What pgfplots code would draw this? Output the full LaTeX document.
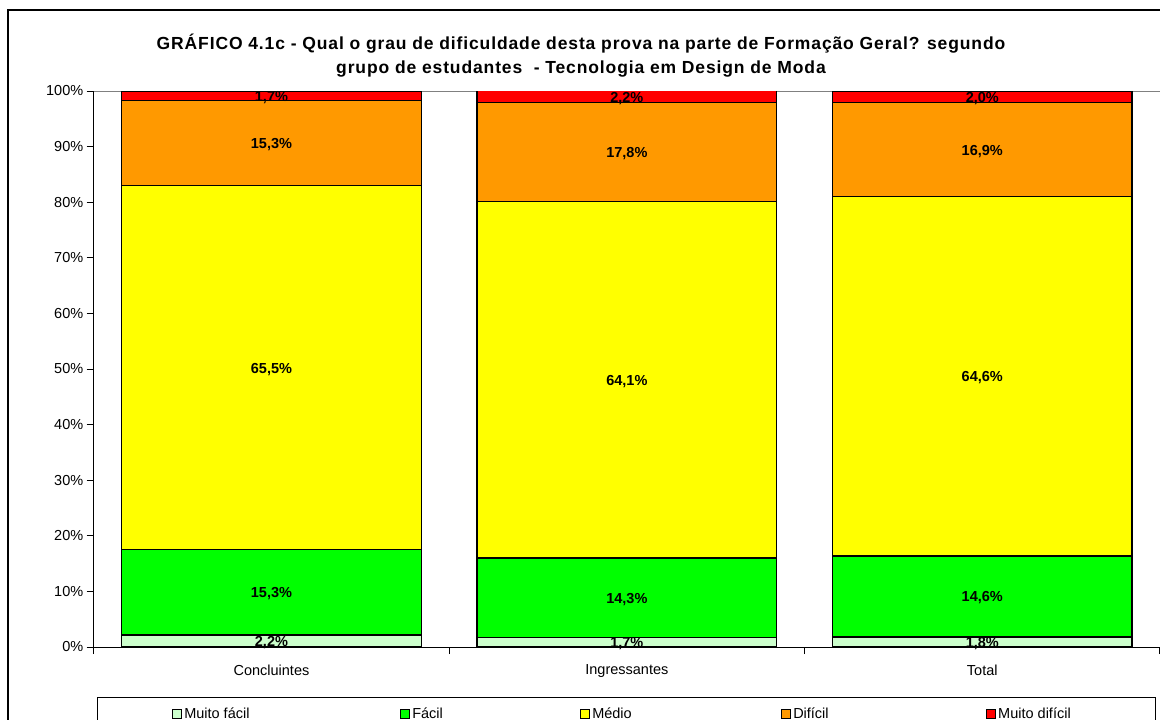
\documentclass[border=0pt]{standalone}
\usepackage{pgfplots}
\pgfplotsset{compat=1.18}
\usepackage{pgfplotstable}
\usepackage{fontspec}
\setmainfont{Liberation Sans}
\definecolor{cMF}{HTML}{CCFFCC}
\definecolor{cF}{HTML}{00FF00}
\definecolor{cM}{HTML}{FFFF00}
\definecolor{cD}{HTML}{FF9900}
\definecolor{cMD}{HTML}{FF0000}
% label positions = middle of each stacked segment
\pgfplotstableread{
x y label
0 1.1 2,2\%
0 9.85 15,3\%
0 50.25 65,5\%
0 90.65 15,3\%
0 99.15 1,7\%
1 0.85 1,7\%
1 8.85 14,3\%
1 48.05 64,1\%
1 89.0 17,8\%
1 99.0 2,2\%
2 0.9 1,8\%
2 9.1 14,6\%
2 48.7 64,6\%
2 89.45 16,9\%
2 98.9 2,0\%
}\labels
\begin{document}
\begin{tikzpicture}
\draw[line width=1.6pt] (8pt,-10pt) rectangle (1190pt,-750pt);
\node[font=\fontsize{17.5}{24}\selectfont\bfseries\addfontfeature{LetterSpace=5}, align=center] at (581pt,-56pt)
 {GRÁFICO 4.1c - Qual o grau de dificuldade desta prova na parte de Formação Geral? segundo\\grupo de estudantes\ \ - Tecnologia em Design de Moda};
\begin{axis}[
 at={(93.75pt,-647pt)}, anchor=south west,
 width=1066.25pt, height=556pt, scale only axis,
 ybar stacked, bar width=0.843,
 xmin=-0.5, xmax=2.5, ymin=0, ymax=100,
 axis x line*=bottom, axis y line*=left,
 axis line style={-, black, line width=1pt},
 xtick={-0.5,0.5,1.5,2.5}, xticklabels={},
 extra x ticks={0,1,2},
 extra x tick labels={Concluintes,Ingressantes,Total},
 extra x tick style={major tick length=0pt, tick label style={yshift=-14pt}},
 ytick={0,10,...,100},
 yticklabels={0\%,10\%,20\%,30\%,40\%,50\%,60\%,70\%,80\%,90\%,100\%},
 tick align=outside, major tick length=7pt,
 tick style={black, line width=1pt},
 tick label style={font=\fontsize{14.5}{16}\selectfont},
 every axis plot/.append style={draw=black, line width=1.5pt},
 legend columns=5,
 legend image code/.code={\draw[#1,draw=black,line width=1pt] (0pt,-4.5pt) rectangle (9pt,4.5pt);},
 legend style={at={(axis description cs:0,0)}, anchor=north west, xshift=3pt, yshift=-50pt,
   draw=black, line width=1pt, inner xsep=75pt, inner ysep=8pt,
   font=\fontsize{14.5}{16}\selectfont,
   /tikz/every even column/.append style={column sep=1pt},
   cells={anchor=west}},
]
\addplot[fill=cMF] coordinates {(0,2.2) (1,1.7) (2,1.8)};
\addlegendentry{\makebox[213pt][l]{Muito fácil}}
\addplot[fill=cF] coordinates {(0,15.3) (1,14.3) (2,14.6)};
\addlegendentry{\makebox[165pt][l]{Fácil}}
\addplot[fill=cM] coordinates {(0,65.5) (1,64.1) (2,64.6)};
\addlegendentry{\makebox[186pt][l]{Médio}}
\addplot[fill=cD] coordinates {(0,15.3) (1,17.8) (2,16.9)};
\addlegendentry{\makebox[190pt][l]{Difícil}}
\addplot[fill=cMD] coordinates {(0,1.7) (1,2.2) (2,2.0)};
\addlegendentry{\makebox[80pt][l]{Muito difícil}}
\draw[gray, line width=1pt] (rel axis cs:0,1) -- (rel axis cs:1,1);
\end{axis}
\begin{axis}[
 at={(93.75pt,-647pt)}, anchor=south west,
 width=1066.25pt, height=556pt, scale only axis,
 xmin=-0.5, xmax=2.5, ymin=0, ymax=100,
 hide axis, clip=false,
]
\addplot[only marks, mark=none, nodes near coords, point meta=explicit symbolic,
  every node near coord/.style={anchor=center, yshift=-1.5pt, font=\fontsize{14.5}{16}\selectfont\bfseries, black}]
  table[x=x, y=y, meta=label] {\labels};
\end{axis}
\pgfresetboundingbox
\useasboundingbox (0,0) rectangle (1160pt,-720pt);
\end{tikzpicture}
\end{document}
